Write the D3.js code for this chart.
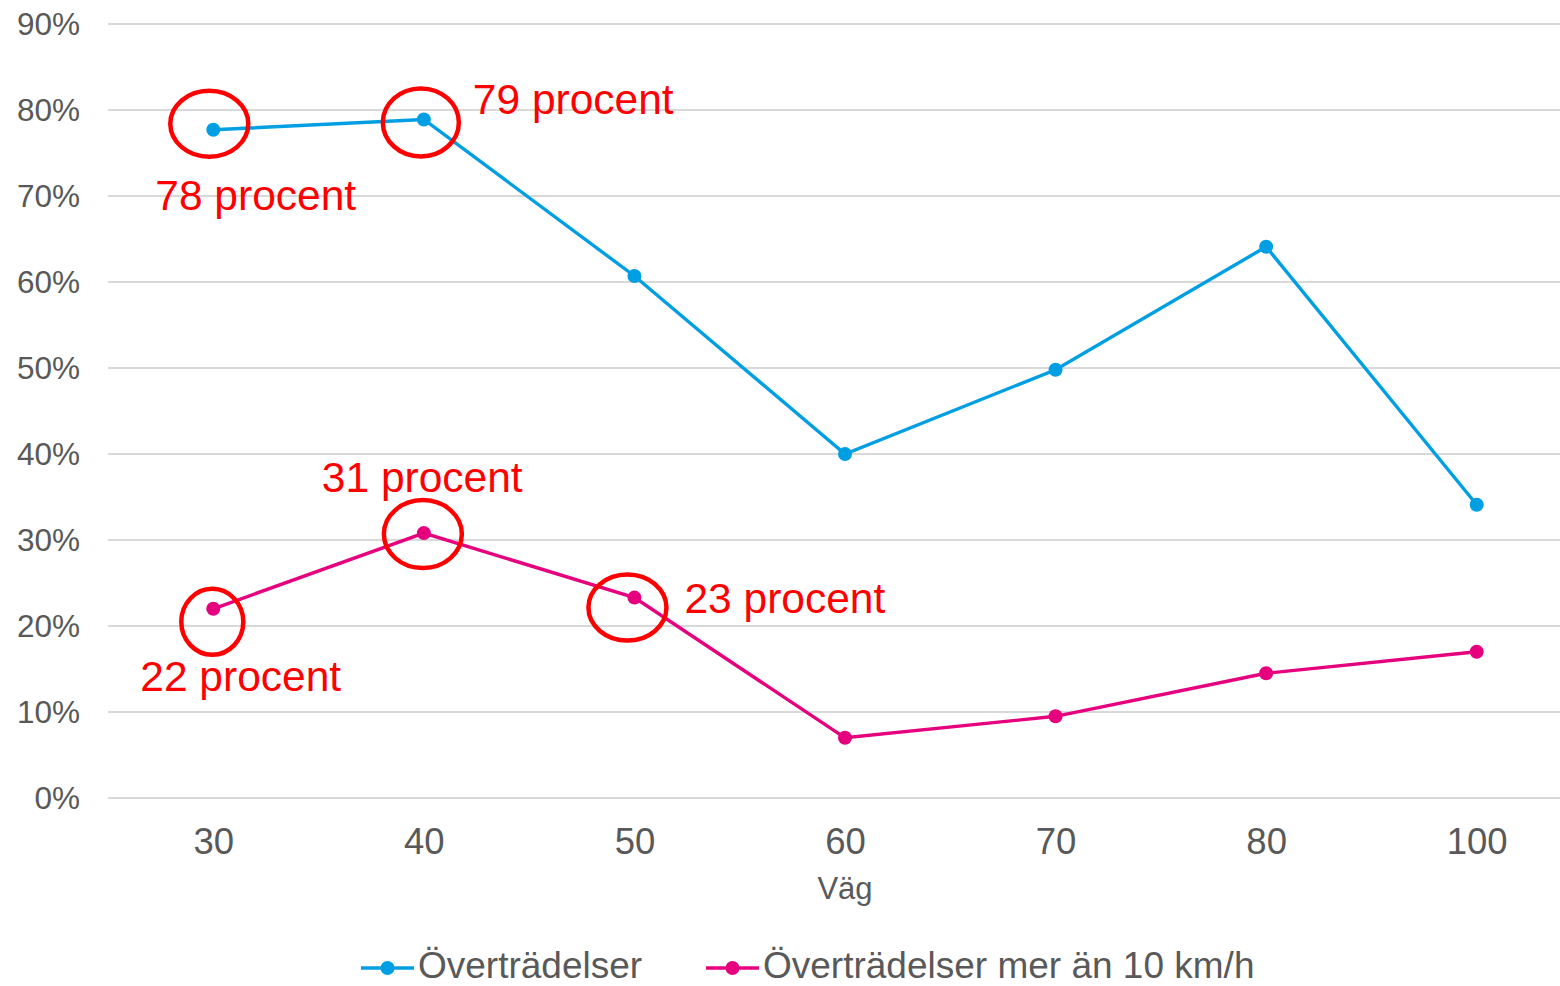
<!DOCTYPE html>
<html>
<head>
<meta charset="utf-8">
<script src="https://cdn.jsdelivr.net/npm/d3@7"></script>
<style>
  html, body { margin: 0; padding: 0; background: #fff; }
  svg { display: block; font-family: "Liberation Sans", Arial, sans-serif; }
</style>
</head>
<body>
<svg id="chart"></svg>
<script>
// data
const categories = ["30", "40", "50", "60", "70", "80", "100"];
const violations = [0.777, 0.789, 0.607, 0.400, 0.498, 0.641, 0.341];
const violations10 = [0.220, 0.308, 0.233, 0.070, 0.095, 0.145, 0.170];
const yTicks = [0, 0.1, 0.2, 0.3, 0.4, 0.5, 0.6, 0.7, 0.8, 0.9];
const seriesNames = ["Överträdelser", "Överträdelser mer än 10 km/h"];
const xTitle = "Väg";

// annotations: which point, and the text shown
const notes = [
  {series: 0, cat: "30", text: "78 procent"},
  {series: 0, cat: "40", text: "79 procent"},
  {series: 1, cat: "40", text: "31 procent"},
  {series: 1, cat: "50", text: "23 procent"},
  {series: 1, cat: "30", text: "22 procent"},
];
// offsets of ring and label from the point (layout only)
const noteLayout = [
  {cx: -4, cy: -6, rx: 39, ry: 33, lx: -58, ly: 80},
  {cx: -3, cy: 3, rx: 38, ry: 34, lx: 49, ly: -5},
  {cx: -1, cy: 1, rx: 39, ry: 34, lx: -102, ly: -41},
  {cx: -7, cy: 10, rx: 39, ry: 33, lx: 50, ly: 15},
  {cx: -1, cy: 13, rx: 31, ry: 33, lx: -73, ly: 82},
];

var width = 1560,
    height = 986,
    margin = {top: 24, right: 0, bottom: 188, left: 108};

const colors = ["#009fe3", "#e6007e"];
const series = [violations, violations10];

let svg = d3.select("#chart")
    .attr("width", width)
    .attr("height", height);

let x = d3.scalePoint()
    .domain(categories)
    .range([margin.left, 1582])
    .padding(0.5);

let y = d3.scaleLinear()
    .domain([0, 0.9])
    .range([height - margin.bottom, margin.top]);

// gridlines
svg.append("g")
    .selectAll("line")
    .data(yTicks)
    .join("line")
    .attr("x1", margin.left)
    .attr("x2", width)
    .attr("y1", d => y(d))
    .attr("y2", d => y(d))
    .attr("stroke", "#d9d9d9")
    .attr("stroke-width", 2);

// y axis labels
let yAxis = svg.append("g")
    .attr("transform", `translate(${margin.left}, 0)`)
    .call(d3.axisLeft(y).tickValues(yTicks).tickFormat(d3.format(".0%")).tickSize(0).tickPadding(28));
yAxis.select(".domain").remove();
yAxis.selectAll("text")
    .attr("fill", "#595959")
    .style("font-size", "31.5px")
    .style("font-family", "Liberation Sans, Arial, sans-serif");

// x axis labels
let xAxis = svg.append("g")
    .attr("transform", `translate(0, ${y(0)})`)
    .call(d3.axisBottom(x).tickSize(0).tickPadding(30));
xAxis.select(".domain").remove();
xAxis.selectAll("text")
    .attr("fill", "#595959")
    .style("font-size", "36.5px")
    .style("font-family", "Liberation Sans, Arial, sans-serif");

// x title
svg.append("text")
    .attr("x", x("60"))
    .attr("y", 899)
    .attr("text-anchor", "middle")
    .attr("fill", "#595959")
    .style("font-size", "31px")
    .text(xTitle);

// lines and markers
let line = d3.line()
    .x((d, i) => x(categories[i]))
    .y(d => y(d));

series.forEach((vals, s) => {
    svg.append("path")
        .datum(vals)
        .attr("d", line)
        .attr("fill", "none")
        .attr("stroke", colors[s])
        .attr("stroke-width", 3.4);

    svg.append("g")
        .selectAll("circle")
        .data(vals)
        .join("circle")
        .attr("cx", (d, i) => x(categories[i]))
        .attr("cy", d => y(d))
        .attr("r", 7)
        .attr("fill", colors[s]);
});

// annotations
notes.forEach((n, k) => {
    let l = noteLayout[k];
    let v = series[n.series][categories.indexOf(n.cat)];
    let px = x(n.cat), py = y(v);
    svg.append("ellipse")
        .attr("cx", px + l.cx)
        .attr("cy", py + l.cy)
        .attr("rx", l.rx)
        .attr("ry", l.ry)
        .attr("fill", "none")
        .attr("stroke", "#ff0000")
        .attr("stroke-width", 4.5);
    svg.append("text")
        .attr("x", px + l.lx)
        .attr("y", py + l.ly)
        .attr("fill", "#ff0000")
        .style("font-size", "42.5px")
        .text(n.text);
});

// legend
const legendX = [361, 706];
let legend = svg.append("g")
    .selectAll("g")
    .data(seriesNames)
    .join("g")
    .attr("transform", (d, i) => `translate(${legendX[i]}, 968)`);
legend.append("line")
    .attr("x1", 0).attr("x2", 53)
    .attr("stroke", (d, i) => colors[i])
    .attr("stroke-width", 3.4);
legend.append("circle")
    .attr("cx", 26.5)
    .attr("r", 7)
    .attr("fill", (d, i) => colors[i]);
legend.append("text")
    .attr("x", 57)
    .attr("y", 10)
    .attr("fill", "#595959")
    .style("font-size", "37px")
    .text(d => d);
</script>
</body>
</html>
